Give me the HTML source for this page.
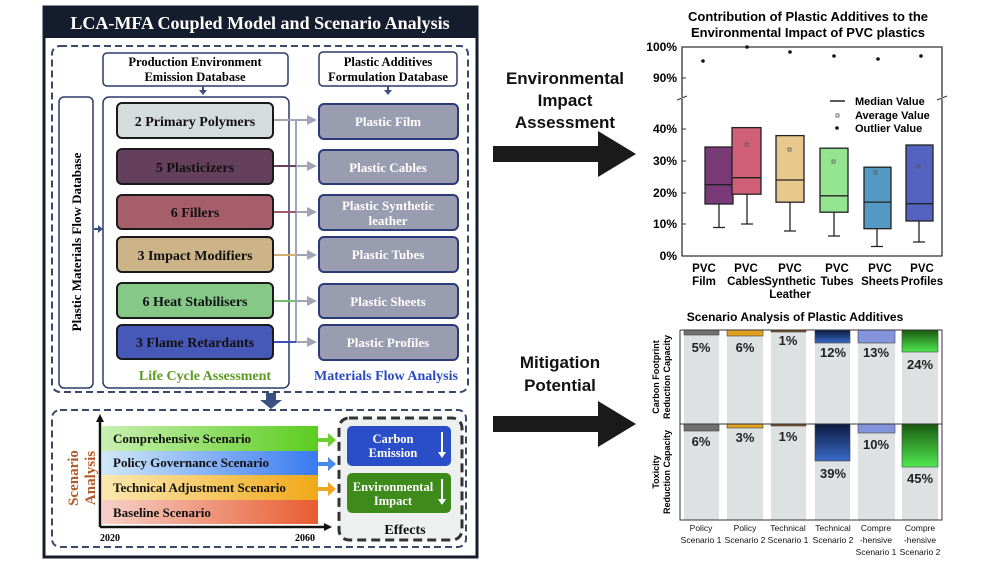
<!DOCTYPE html>
<html><head><meta charset="utf-8"><style>body{margin:0;background:#fff}svg{display:block}</style></head><body>
<svg width="999" height="563" viewBox="0 0 999 563" xmlns="http://www.w3.org/2000/svg">
<defs>
<linearGradient id="gG" x1="0" x2="1"><stop offset="0" stop-color="#c8f0b0"/><stop offset="1" stop-color="#5ccc20"/></linearGradient>
<linearGradient id="gB" x1="0" x2="1"><stop offset="0" stop-color="#d0e8f8"/><stop offset="1" stop-color="#3a7af0"/></linearGradient>
<linearGradient id="gO" x1="0" x2="1"><stop offset="0" stop-color="#fbe8b0"/><stop offset="1" stop-color="#f0a818"/></linearGradient>
<linearGradient id="gR" x1="0" x2="1"><stop offset="0" stop-color="#f6d0c8"/><stop offset="1" stop-color="#e85c30"/></linearGradient>
<linearGradient id="nv" x1="0" y1="0" x2="0" y2="1"><stop offset="0" stop-color="#0c1a40"/><stop offset="1" stop-color="#3a6ac8"/></linearGradient>
<linearGradient id="gn" x1="0" y1="0" x2="0" y2="1"><stop offset="0" stop-color="#1a5a10"/><stop offset="1" stop-color="#50e850"/></linearGradient>
</defs>
<!-- LEFT PANEL -->
<rect x="44" y="7" width="433" height="550" fill="#fff" stroke="#141c2e" stroke-width="3"/>
<rect x="44" y="7" width="433" height="31" fill="#141c2e"/>
<text x="260" y="29" text-anchor="middle" font-family="Liberation Serif, serif" font-weight="bold" font-size="18" fill="#fff">LCA-MFA Coupled Model and Scenario Analysis</text>
<rect x="52" y="46" width="416" height="346" rx="8" fill="none" stroke="#3a4a6a" stroke-width="2" stroke-dasharray="7,4"/>
<g font-family="Liberation Serif, serif" font-weight="bold" text-anchor="middle">
<rect x="103" y="53" width="185" height="33" rx="4" fill="#fff" stroke="#2a3a6a" stroke-width="1.5"/>
<text x="195" y="66" font-size="12.5">Production Environment</text><text x="195" y="81" font-size="12.5">Emission Database</text>
<rect x="319" y="52" width="138" height="34" rx="4" fill="#fff" stroke="#2a3a6a" stroke-width="1.5"/>
<text x="388" y="66" font-size="12.5">Plastic Additives</text><text x="388" y="81" font-size="12.5">Formulation Database</text>
<path d="M203 86v6" stroke="#3a5080" stroke-width="2"/><path d="M199 90h8l-4 5z" fill="#3a5080"/>
<path d="M388 86v6" stroke="#3a5080" stroke-width="2"/><path d="M384 90h8l-4 5z" fill="#3a5080"/>
<rect x="59" y="97" width="34" height="291" rx="5" fill="#fff" stroke="#2a3a6a" stroke-width="1.5"/>
<text transform="translate(81,242) rotate(-90)" font-size="13">Plastic Materials Flow Database</text>
<path d="M94 229h6" stroke="#3a5080" stroke-width="2"/><path d="M98 225v8l5-4z" fill="#3a5080"/>
<rect x="103" y="97" width="186" height="291" rx="6" fill="#fff" stroke="#2a3a6a" stroke-width="1.5"/>
<path d="M296 120V342" stroke="#a0a4b4" stroke-width="2"/>
<g stroke-width="2">
<path d="M273 120h35" stroke="#a0a4b4"/><path d="M273 166h23" stroke="#6a4060"/><path d="M296 166h12" stroke="#a0a4b4"/>
<path d="M273 212h23" stroke="#a05a6a"/><path d="M296 212h12" stroke="#a0a4b4"/>
<path d="M273 255h23" stroke="#d0b070"/><path d="M296 255h12" stroke="#a0a4b4"/>
<path d="M273 301h23" stroke="#70c070"/><path d="M296 301h12" stroke="#a0a4b4"/>
<path d="M273 342h23" stroke="#4050c0"/><path d="M296 342h12" stroke="#a0a4b4"/>
</g>
<g fill="#a0a4b4"><path d="M307 115l10 5-10 5z"/><path d="M307 161l10 5-10 5z"/><path d="M307 207l10 5-10 5z"/><path d="M307 250l10 5-10 5z"/><path d="M307 296l10 5-10 5z"/><path d="M307 337l10 5-10 5z"/></g>
<g stroke="#1a1a1a" stroke-width="2">
<rect x="117" y="103" width="156" height="35" rx="5" fill="#d4dcdc"/>
<rect x="117" y="149" width="156" height="35" rx="5" fill="#64405c"/>
<rect x="117" y="195" width="156" height="34" rx="5" fill="#a65e6a"/>
<rect x="117" y="237" width="156" height="35" rx="5" fill="#cdb488"/>
<rect x="117" y="283" width="156" height="35" rx="5" fill="#86c888"/>
<rect x="117" y="325" width="156" height="34" rx="5" fill="#4658b8"/>
</g>
<g font-size="14" fill="#111">
<text x="195" y="126">2 Primary Polymers</text><text x="195" y="172">5 Plasticizers</text><text x="195" y="217">6 Fillers</text>
<text x="195" y="260">3 Impact Modifiers</text><text x="195" y="306">6 Heat Stabilisers</text><text x="195" y="347">3 Flame Retardants</text>
</g>
<g stroke="#2a3a7a" stroke-width="2" fill="#9a9cb0">
<rect x="319" y="104" width="139" height="35" rx="5"/><rect x="319" y="150" width="139" height="34" rx="5"/><rect x="319" y="195" width="139" height="35" rx="5"/>
<rect x="319" y="237" width="139" height="35" rx="5"/><rect x="319" y="284" width="139" height="34" rx="5"/><rect x="319" y="325" width="139" height="35" rx="5"/>
</g>
<g font-size="13" fill="#fff">
<text x="388" y="126">Plastic Film</text><text x="388" y="172">Plastic Cables</text><text x="388" y="210">Plastic Synthetic</text><text x="388" y="225">leather</text>
<text x="388" y="259">Plastic Tubes</text><text x="388" y="306">Plastic Sheets</text><text x="388" y="347">Plastic Profiles</text>
</g>
<text x="205" y="380" font-size="14" fill="#5a9a20">Life Cycle Assessment</text>
<text x="386" y="380" font-size="14" fill="#2a4ac0">Materials Flow Analysis</text>
<rect x="266" y="393" width="10" height="8" fill="#3a5080"/><path d="M260 400h22l-11 9z" fill="#3a5080"/>
<rect x="52" y="410" width="414" height="137" rx="8" fill="none" stroke="#3a4a6a" stroke-width="2" stroke-dasharray="7,4"/>
<rect x="102" y="426" width="216" height="25" fill="url(#gG)"/><rect x="102" y="451" width="216" height="24" fill="url(#gB)"/>
<rect x="102" y="475" width="216" height="25" fill="url(#gO)"/><rect x="102" y="500" width="216" height="24" fill="url(#gR)"/>
<path d="M100 527V420M100 527H326" stroke="#111" stroke-width="2.5" fill="none"/>
<path d="M96 422l4-8 4 8z M324 523l8 4-8 4z" fill="#111"/>
<g text-anchor="start" font-size="13" fill="#111">
<text x="113" y="443">Comprehensive Scenario</text><text x="113" y="467">Policy Governance Scenario</text>
<text x="113" y="492">Technical Adjustment Scenario</text><text x="113" y="517">Baseline Scenario</text>
</g>
<text x="110" y="541" font-size="10">2020</text><text x="305" y="541" font-size="10">2060</text>
<text transform="translate(78,478) rotate(-90)" font-size="15" fill="#b45a2a">Scenario</text>
<text transform="translate(95,478) rotate(-90)" font-size="15" fill="#b45a2a">Analysis</text>
<path d="M318 438h10v-5l8 7-8 7v-5h-10z" fill="#6cd030"/><path d="M318 462h10v-5l8 7-8 7v-5h-10z" fill="#4a8af0"/><path d="M318 487h10v-5l8 7-8 7v-5h-10z" fill="#f0a820"/>
<rect x="339" y="418" width="123" height="122" rx="10" fill="#eef0f0" stroke="#333" stroke-width="3" stroke-dasharray="9,5"/>
<rect x="347" y="426" width="104" height="40" rx="5" fill="#2a4ec8"/><rect x="347" y="473" width="104" height="40" rx="5" fill="#3e8a1a"/>
<g font-size="12.5" fill="#fff"><text x="393" y="443">Carbon</text><text x="393" y="457">Emission</text><text x="393" y="491">Environmental</text><text x="393" y="505">Impact</text></g>
<path d="M442 432v22M442 479v22" stroke="#fff" stroke-width="2"/><path d="M438 452l4 6 4-6zM438 499l4 6 4-6z" fill="#fff"/>
<text x="405" y="534" font-size="14" fill="#111">Effects</text>
</g>
<!-- MIDDLE -->
<g font-family="Liberation Sans, sans-serif" font-weight="bold" font-size="17" text-anchor="middle" fill="#111">
<text x="565" y="84">Environmental</text><text x="565" y="106">Impact</text><text x="565" y="128">Assessment</text>
<text x="560" y="368">Mitigation</text><text x="560" y="391">Potential</text>
</g>
<path d="M493 146h105v-15l38 23-38 23v-15h-105z" fill="#1a1a1a"/>
<path d="M493 416h105v-15l38 23-38 23v-15h-105z" fill="#1a1a1a"/>
<!-- TOP RIGHT CHART -->
<g font-family="Liberation Sans, sans-serif" font-weight="bold">
<text x="808" y="21" text-anchor="middle" font-size="13">Contribution of Plastic Additives to the</text>
<text x="808" y="37" text-anchor="middle" font-size="13">Environmental Impact of PVC plastics</text>
<path d="M682 97V47H942V97M682 99V256H942V99" fill="none" stroke="#333" stroke-width="1.3"/>
<path d="M677 100l10-4M937 100l10-4" stroke="#333"/>
<g font-size="12" text-anchor="end">
<text x="677" y="51">100%</text><text x="677" y="82">90%</text><text x="677" y="133">40%</text><text x="677" y="165">30%</text><text x="677" y="197">20%</text><text x="677" y="228">10%</text><text x="677" y="260">0%</text>
</g>
<g stroke="#333"><path d="M682 47h4M682 78h4M682 129h4M682 161h4M682 193h4M682 224h4M682 256h4"/></g>
<g stroke="#222" stroke-width="1.3">
<path d="M719 204V227.5M747 194V224M790 202V231M834 212V236M877 228.5V246.5M919 221V242"/>
<path d="M713 227.5h12M741 224h12M784 231h12M828 236h12M871 246.5h12M913 242h12"/>
<rect x="705" y="147" width="28" height="57" fill="#7a3a78"/><path d="M705 184.7h28"/>
<rect x="732" y="127.6" width="29" height="66.6" fill="#d06078"/><path d="M732 177.7h29"/>
<rect x="776" y="135.6" width="28" height="66.6" fill="#e8c88c"/><path d="M776 180h28"/>
<rect x="820" y="148.2" width="28" height="64" fill="#94e490"/><path d="M820 195.8h28"/>
<rect x="864" y="167.2" width="27" height="61.5" fill="#5498c4"/><path d="M864 202.1h27"/>
<rect x="906" y="145" width="27" height="76" fill="#5462c0"/><path d="M906 203.7h27"/>
</g>
<g fill="none" stroke="#555" stroke-width="0.8"><rect x="717" y="153" width="3" height="3"/><rect x="745" y="143" width="3" height="3"/><rect x="788" y="148" width="3" height="3"/><rect x="832" y="160" width="3" height="3"/><rect x="874" y="171" width="3" height="3"/><rect x="917" y="165" width="3" height="3"/><rect x="836" y="114" width="3" height="3"/></g>
<g fill="#111"><circle cx="703" cy="61" r="1.8"/><circle cx="747" cy="47" r="1.8"/><circle cx="790" cy="52" r="1.8"/><circle cx="834" cy="56" r="1.8"/><circle cx="878" cy="59" r="1.8"/><circle cx="921" cy="56" r="1.8"/><circle cx="837" cy="128" r="1.8"/></g>
<path d="M830 101h15" stroke="#222" stroke-width="1.5"/>
<g font-size="11"><text x="855" y="105">Median Value</text><text x="855" y="119">Average Value</text><text x="855" y="132">Outlier Value</text></g>
<g font-size="11.5" text-anchor="middle">
<text x="704" y="272">PVC</text><text x="704" y="285">Film</text>
<text x="746" y="272">PVC</text><text x="746" y="285">Cables</text>
<text x="790" y="272">PVC</text><text x="790" y="285">Synthetic</text><text x="790" y="298">Leather</text>
<text x="837" y="272">PVC</text><text x="837" y="285">Tubes</text>
<text x="880" y="272">PVC</text><text x="880" y="285">Sheets</text>
<text x="922" y="272">PVC</text><text x="922" y="285">Profiles</text>
</g>
<!-- BOTTOM RIGHT CHART -->
<text x="795" y="321" text-anchor="middle" font-size="12">Scenario Analysis of Plastic Additives</text>
<g fill="#dde1e1"><rect x="684" y="330" width="35" height="190"/><rect x="727" y="330" width="36" height="190"/><rect x="771" y="330" width="35" height="190"/><rect x="815" y="330" width="35" height="190"/><rect x="858" y="330" width="37" height="190"/><rect x="902" y="330" width="36" height="190"/></g>
<g stroke="#444" stroke-width="0.6">
<rect x="684" y="330" width="35" height="5" fill="#707070"/><rect x="727" y="330" width="36" height="6" fill="#e0a020"/><rect x="771" y="330" width="35" height="2" fill="#7a5020"/>
<rect x="815" y="330" width="35" height="13" fill="url(#nv)"/><rect x="858" y="330" width="37" height="13" fill="#8494dc"/><rect x="902" y="330" width="36" height="22" fill="url(#gn)"/>
<rect x="684" y="424" width="35" height="7" fill="#707070"/><rect x="727" y="424" width="36" height="4" fill="#e0a020"/><rect x="771" y="424" width="35" height="2" fill="#7a5020"/>
<rect x="815" y="424" width="35" height="37" fill="url(#nv)"/><rect x="858" y="424" width="37" height="9" fill="#8494dc"/><rect x="902" y="424" width="36" height="43" fill="url(#gn)"/>
</g>
<path d="M680 330V520H942V330H680M680 424H942" fill="none" stroke="#333" stroke-width="1"/>
<g font-size="13" text-anchor="middle" fill="#222">
<text x="701" y="352">5%</text><text x="745" y="352">6%</text><text x="788" y="345">1%</text><text x="833" y="357">12%</text><text x="876" y="357">13%</text><text x="920" y="369">24%</text>
<text x="701" y="446">6%</text><text x="745" y="442">3%</text><text x="788" y="441">1%</text><text x="833" y="478">39%</text><text x="876" y="449">10%</text><text x="920" y="483">45%</text>
</g>
<g font-size="9" text-anchor="middle">
<text transform="translate(659,377) rotate(-90)">Carbon Footprint</text><text transform="translate(670,377) rotate(-90)">Reduction Capacity</text>
<text transform="translate(659,472) rotate(-90)">Toxicity</text><text transform="translate(670,472) rotate(-90)">Reduction Capacity</text>
</g>
<g font-size="8.5" text-anchor="middle" font-weight="normal" fill="#111">
<text x="701" y="531">Policy</text><text x="701" y="543">Scenario 1</text>
<text x="745" y="531">Policy</text><text x="745" y="543">Scenario 2</text>
<text x="788" y="531">Technical</text><text x="788" y="543">Scenario 1</text>
<text x="833" y="531">Technical</text><text x="833" y="543">Scenario 2</text>
<text x="876" y="531">Compre</text><text x="876" y="543">-hensive</text><text x="876" y="555">Scenario 1</text>
<text x="920" y="531">Compre</text><text x="920" y="543">-hensive</text><text x="920" y="555">Scenario 2</text>
</g>
</g>
</svg>
</body></html>
